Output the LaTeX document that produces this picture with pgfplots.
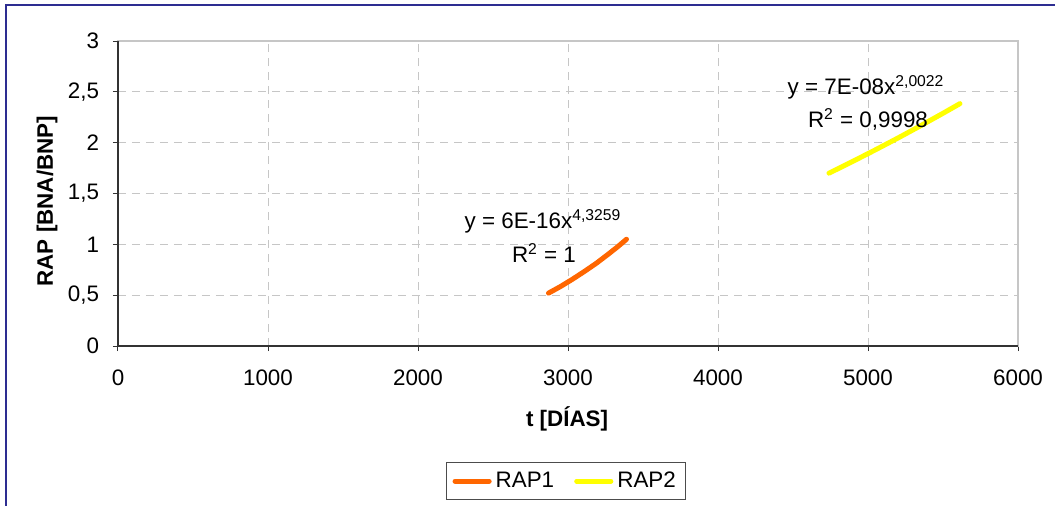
\documentclass[border=0pt]{standalone}
\usepackage{pgfplots}
\pgfplotsset{compat=1.18}
\usepackage{fontspec}
\setmainfont{Liberation Sans}
\definecolor{rapone}{RGB}{255,102,0}
\definecolor{raptwo}{RGB}{255,255,0}
\definecolor{framecol}{RGB}{45,45,145}
\begin{document}
\fontsize{11.2}{13.2}\selectfont
\begin{tikzpicture}[x=0.5pt,y=0.5pt]
\useasboundingbox (-118,-159) rectangle (937,346);
\fill[white] (-118,-159) rectangle (937,346);
\draw[framecol,line width=1.2pt] (-112,-175) rectangle (960,341);
\begin{axis}[
  at={(0,0)}, anchor=south west,
  scale only axis, width=450pt, height=152.5pt,
  xmin=0, xmax=6000, ymin=0, ymax=3,
  xtick={0,1000,...,6000}, ytick={0,0.5,...,3},
  /pgf/number format/assume math mode=true,
  /pgf/number format/use comma,
  /pgf/number format/1000 sep={},
  tick pos=left, tick align=outside,
  major tick length=2.5pt,
  tick style={black!80, line width=0.5pt},
  grid=major,
  major grid style={gray!45, dash pattern=on 4pt off 3pt, line width=0.45pt},
  axis line style={draw=gray!45, line width=1pt},
  xticklabel style={yshift=-5.5pt},
  yticklabel style={xshift=-3pt},
  every axis x label/.style={at={(rel axis cs:0.499,-0.239)}, anchor=center, font=\bfseries},
  every axis y label/.style={at={(rel axis cs:-0.0789,0.475)}, anchor=center, rotate=90, font=\bfseries},
  xlabel={t [DÍAS]},
  ylabel={RAP [BNA/BNP]},
  legend columns=2,
  legend style={at={(rel axis cs:0.498,-0.443)}, anchor=center, draw=black!70, line width=0.5pt,
    /tikz/every even column/.append style={column sep=8pt}, inner xsep=3pt, inner ysep=2.5pt},
  legend image post style={line width=2.5pt},
  clip=false,
]
\addplot[rapone, line width=2.5pt, line cap=round] coordinates {
 (2870,0.520) (2950,0.585) (3030,0.657) (3110,0.734) (3190,0.815) (3270,0.905) (3330,0.975) (3390,1.050)
};
\addlegendentry{RAP1}
\addplot[raptwo, line width=2.5pt, line cap=round] coordinates {
 (4740,1.700) (4900,1.817) (5050,1.930) (5200,2.046) (5350,2.166) (5500,2.289) (5613,2.384)
};
\addlegendentry{RAP2}
\draw[black!80, line width=0.6pt] (rel axis cs:0,1) -- (rel axis cs:0,0) -- (rel axis cs:1,0);
\node at (axis cs:2833,1.23) {y = 6E-16x\textsuperscript{4,3259}};
\node at (axis cs:2840,0.915) {R\textsuperscript{2} = 1};
\node at (axis cs:4987,2.54) {y = 7E-08x\textsuperscript{2,0022}};
\node at (axis cs:5000,2.23) {R\textsuperscript{2} = 0,9998};
\end{axis}
\end{tikzpicture}
\end{document}
